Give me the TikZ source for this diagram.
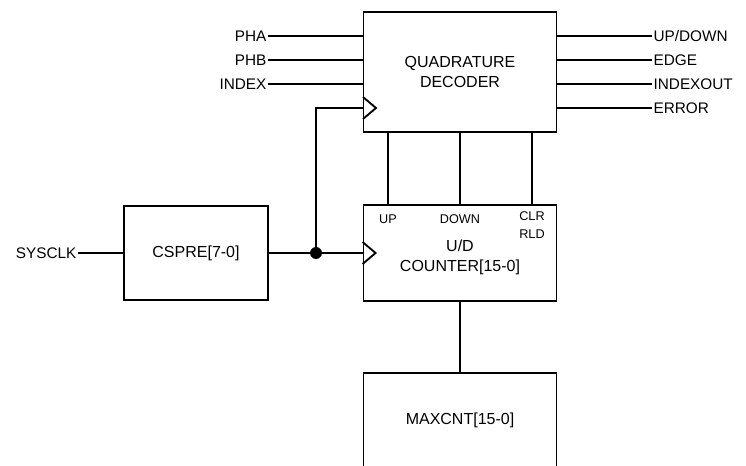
\documentclass[tikz,border=0pt]{standalone}
\usepackage{fontspec}
\setmainfont{Liberation Sans}
\usetikzlibrary{positioning}

\tikzset{
    blk/.style={draw, line width=1.4pt, minimum width=144.75pt, inner sep=0pt,
        font=\fontsize{12}{15}\selectfont, align=center},
    sig/.style={inner sep=1pt, font=\fontsize{11.5}{14}\selectfont},
    pin/.style={inner sep=0pt, font=\fontsize{9.5}{13}\selectfont, align=center},
    wire/.style={line width=1.4pt}
}

\begin{document}
\begin{tikzpicture}[x=0.75pt, y=-0.75pt]
            \clip (0,0) rectangle (746,466);

            % blocks
            \node [blk, minimum height=90pt] (dec) at (460,72) {QUADRATURE\\DECODER};
            \node [blk, minimum height=72pt] (cnt) at (460,253) {};
            \node [blk, minimum width=108pt, minimum height=70.5pt] (pre) at (196,253) {CSPRE[7-0]};
            \node [blk, minimum height=75pt] (max) at (460,423) {};
            \node at (460,420) [font=\fontsize{12}{15}\selectfont] (maxtxt) {MAXCNT[15-0]};
            \node at (460,257) [blk, draw=none, minimum width=0pt] (cnttxt) {U/D\\COUNTER[15-0]};

            % counter pins
            \node [pin] (up) at (388,219) {UP};
            \node [pin] (down) at (460,219) {DOWN};
            \node [pin] (clr) at (532,225) {CLR\\RLD};

            % decoder inputs
            \node [sig, anchor=east] (pha) at (268,36) {PHA};
            \node [sig, anchor=east] (phb) at (268,60) {PHB};
            \node [sig, anchor=east] (idx) at (268,84) {INDEX};
            \foreach \s in {pha, phb, idx}
                \draw [wire] (\s) -- (\s -| dec.west);

            % decoder outputs
            \node [sig, anchor=west] (udn) at (652,36) {UP/DOWN};
            \node [sig, anchor=west] (edge) at (652,60) {EDGE};
            \node [sig, anchor=west] (iout) at (652,84) {INDEXOUT};
            \node [sig, anchor=west] (err) at (652,108) {ERROR};
            \foreach \s in {udn, edge, iout, err}
                \draw [wire] (\s -| dec.east) -- (\s);

            % decoder to counter
            \foreach \s in {up, down, clr}
                \draw [wire] (dec.south -| \s) -- (cnt.north -| \s);

            % clock path
            \node [sig, anchor=east] (sysclk) at (78,253) {SYSCLK};
            \draw [wire] (sysclk) -- (pre.west);
            \coordinate (jn) at (316,253);
            \coordinate (ck1) at (363,108);
            \draw [wire] (pre.east) -- (cnt.west);
            \draw [wire] (jn) -- (jn |- ck1) -- (ck1);
            \fill (jn) circle (6);

            % clock marks
            \draw [wire] (ck1) ++(0,-11) -- ++(13,11) -- ++(-13,11);
            \draw [wire] (cnt.west) ++(0,-11) -- ++(13,11) -- ++(-13,11);

            % counter to max
            \draw [wire] (cnt.south) -- (max.north);
        \end{tikzpicture}
\end{document}
